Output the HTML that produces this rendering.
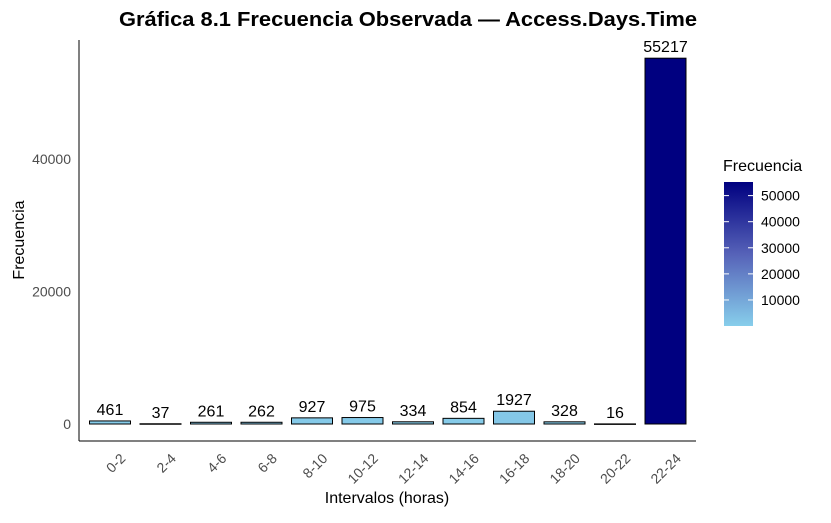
<!DOCTYPE html>
<html><head><meta charset="utf-8"><style>
body{margin:0;background:#fff;}
svg{font-family:"Liberation Sans",sans-serif;}
</style></head><body>
<svg id="c" width="831" height="518" xmlns="http://www.w3.org/2000/svg">
<defs><linearGradient id="g" x1="0" y1="1" x2="0" y2="0"><stop offset="0" stop-color="#87CEEB"/><stop offset="0.5" stop-color="#5662B8"/><stop offset="1" stop-color="#000080"/></linearGradient></defs>
<text x="408" y="26" text-anchor="middle" font-size="20" font-weight="bold" textLength="578" lengthAdjust="spacingAndGlyphs">Gráfica 8.1 Frecuencia Observada — Access.Days.Time</text>
<text x="387" y="503" text-anchor="middle" font-size="16">Intervalos (horas)</text>
<text transform="translate(24,240) rotate(-90)" text-anchor="middle" font-size="16">Frecuencia</text>
<g id="plot"></g>
<text x="723" y="171" font-size="16">Frecuencia</text>
<rect x="724" y="182" width="29" height="144" fill="url(#g)"/>
<g id="leg"></g>
</svg>
<script>
const categories=["0-2","2-4","4-6","6-8","8-10","10-12","12-14","14-16","16-18","18-20","20-22","22-24"];
const values=[461,37,261,262,927,975,334,854,1927,328,16,55217];
const yTicks=[0,20000,40000];
const legendTicks=[10000,20000,30000,40000,50000];
const NS="http://www.w3.org/2000/svg";
const p=document.getElementById('plot');
const y0=424, ppu=265/40000;
const yS=v=>y0-v*ppu;
const xS=i=>110+i*50.5;
const vmin=Math.min(...values), vmax=Math.max(...values);
function mk(t,a,par){const e=document.createElementNS(NS,t);for(const k in a)e.setAttribute(k,a[k]);(par||p).appendChild(e);return e;}
function col(v){const t=(v-vmin)/(vmax-vmin);const a=[135,206,235],m=[86,98,184],b=[0,0,128];let c;
if(t<0.5){const u=t/0.5;c=a.map((x,i)=>x+(m[i]-x)*u);}else{const u=(t-0.5)/0.5;c=m.map((x,i)=>x+(b[i]-x)*u);}
return `rgb(${c.map(Math.round).join(',')})`;}
const ax=mk('line',{x1:79,y1:40,x2:79,y2:441,stroke:'#000','stroke-width':1});

const bx=mk('line',{x1:79,y1:441,x2:696,y2:441,stroke:'#000','stroke-width':1});

yTicks.forEach(v=>{const t=mk('text',{x:71,y:yS(v)+5,'text-anchor':'end','font-size':14,fill:'#4d4d4d'});t.textContent=v;
});
categories.forEach((c,i)=>{const x=xS(i),top=yS(values[i]);
const r=mk('rect',{x:x-20.5,y:top,width:41,height:Math.max(y0-top,0.5),fill:col(values[i]),stroke:'#000','stroke-width':1});

const l=mk('text',{x:x,y:top-6,'text-anchor':'middle','font-size':16});l.textContent=values[i];

const tl=mk('text',{transform:`translate(${x+9},${452}) rotate(-45)`,'text-anchor':'end','font-size':14,fill:'#4d4d4d','dominant-baseline':'hanging'});tl.textContent=c;
});
const lg=document.getElementById('leg');
const lS=v=>326-(v-vmin)*(144/(vmax-vmin));
legendTicks.forEach(v=>{const yy=lS(v);
mk('line',{x1:724,y1:yy,x2:729,y2:yy,stroke:'#fff','stroke-width':1},lg);
mk('line',{x1:748,y1:yy,x2:753,y2:yy,stroke:'#fff','stroke-width':1},lg);
const t=mk('text',{x:761,y:yy+5,'font-size':14},lg);t.textContent=v;
});
</script>
</body></html>
